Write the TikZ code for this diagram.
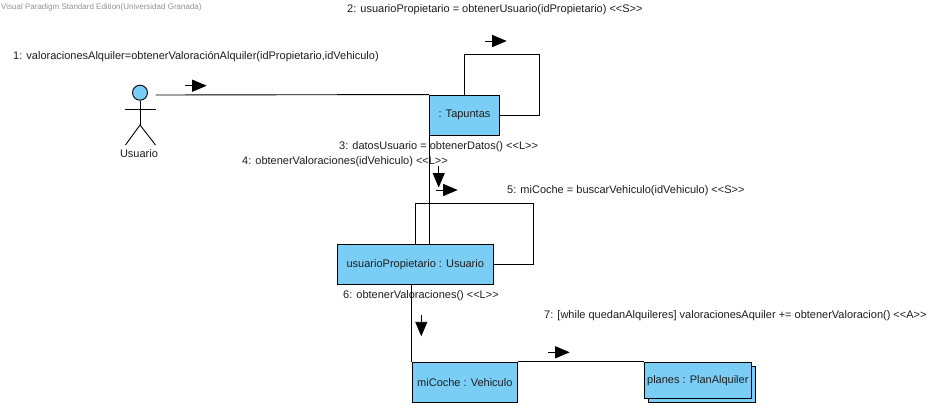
\documentclass[tikz,border=0pt]{standalone}
\usepackage{fontspec}
\setmainfont{Liberation Sans}
\usetikzlibrary{arrows.meta}
\definecolor{boxblue}{RGB}{122,205,244}
\definecolor{inktext}{RGB}{30,30,30}
\tikzset{
  objbox/.style={draw=black, fill=boxblue, line width=0.9pt, inner sep=0pt, text=inktext, font=\fontsize{11}{13}\selectfont},
  msglabel/.style={anchor=west, inner sep=0pt, text=inktext, font=\fontsize{11}{13}\selectfont},
  conn/.style={black, line width=0.9pt},
  msgarrow/.style={black, line width=0.9pt, -{Triangle[length=14.5pt, width=12pt]}},
}
\begin{document}
\begin{tikzpicture}[x=1pt, y=-1pt]
        \useasboundingbox (0,0) rectangle (941,406);
        \fill[white] (0,0) rectangle (941,406);

        \node[anchor=west, inner sep=0pt, text=gray!85, font=\fontsize{8}{10}\selectfont] (watermark) at (1,7) {Visual Paradigm Standard Edition(Universidad Granada)};

        % message labels
        \node[msglabel] (msg1) at (13,56.5) {1: valoracionesAlquiler=obtenerValoraciónAlquiler(idPropietario,idVehiculo)};
        \node[msglabel] (msg2) at (347,9.5) {2: usuarioPropietario = obtenerUsuario(idPropietario) <{}<S>{}>};
        \node[msglabel] (msg3) at (339,146.5) {3: datosUsuario = obtenerDatos() <{}<L>{}>};
        \node[msglabel] (msg4) at (242,161.5) {4: obtenerValoraciones(idVehiculo) <{}<L>{}>};
        \node[msglabel] (msg5) at (507,190.5) {5: miCoche = buscarVehiculo(idVehiculo) <{}<S>{}>};
        \node[msglabel] (msg6) at (343,295.5) {6: obtenerValoraciones() <{}<L>{}>};
        \node[msglabel] (msg7) at (544,315.5) {7: [while quedanAlquileres] valoracionesAquiler += obtenerValoracion() <{}<A>{}>};

        % objects
        \node[objbox, minimum width=70pt, minimum height=40pt] (tapuntas) at (464.5,115) {: Tapuntas};
        \node[objbox, minimum width=156pt, minimum height=40pt] (usuarioProp) at (415.3,264.3) {usuarioPropietario : Usuario};
        \node[objbox, minimum width=105pt, minimum height=40pt] (miCoche) at (464.8,382.3) {miCoche : Vehiculo};
        \node[objbox, minimum width=107.5pt, minimum height=36pt] (planesBack) at (702,384.3) {};
        \node[objbox, minimum width=107.5pt, minimum height=36pt] (planes) at (697.8,380.3) {planes : PlanAlquiler};

        % actor
        \node[circle, draw=black, fill=boxblue, line width=0.9pt, minimum size=15pt, inner sep=0pt] (head) at (140,92.7) {};
        \coordinate (hip) at (140,125);
        \coordinate (actorOut) at (155.5,95);
        \draw[conn] (head.south) -- (hip);
        \draw[conn] (125,109) -- (155.5,109);
        \draw[conn] (125.5,145) -- (hip) -- (155.5,145);
        \node[inner sep=0pt, text=inktext, font=\fontsize{11}{13}\selectfont] (actorName) at (139,154) {Usuario};

        % links
        \draw[conn] (actorOut) -- (tapuntas.north west);
        \draw[conn] (tapuntas.north) -- ++(0,-40) -- ++(75,0) |- (tapuntas.east);
        \draw[conn] (tapuntas.south west) -- (tapuntas.south west |- usuarioProp.north);
        \draw[conn] (usuarioProp.north) -- ++(0,-40) -- ++(118,0) |- (usuarioProp.east);
        \draw[conn] (miCoche.north west) -- (miCoche.north west |- usuarioProp.south);
        \draw[conn] (miCoche.north east) -- (planes.north west);

        % direction arrows
        \draw[msgarrow] (185,85.7) -- ++(21.7,0);
        \draw[msgarrow] (485,41) -- ++(21.7,0);
        \draw[msgarrow] (438.7,166) -- ++(0,21.5);
        \draw[msgarrow] (436,190) -- ++(21.7,0);
        \draw[msgarrow] (421.3,315.3) -- ++(0,21);
        \draw[msgarrow] (548,352.3) -- ++(21.7,0);
\end{tikzpicture}
\end{document}
